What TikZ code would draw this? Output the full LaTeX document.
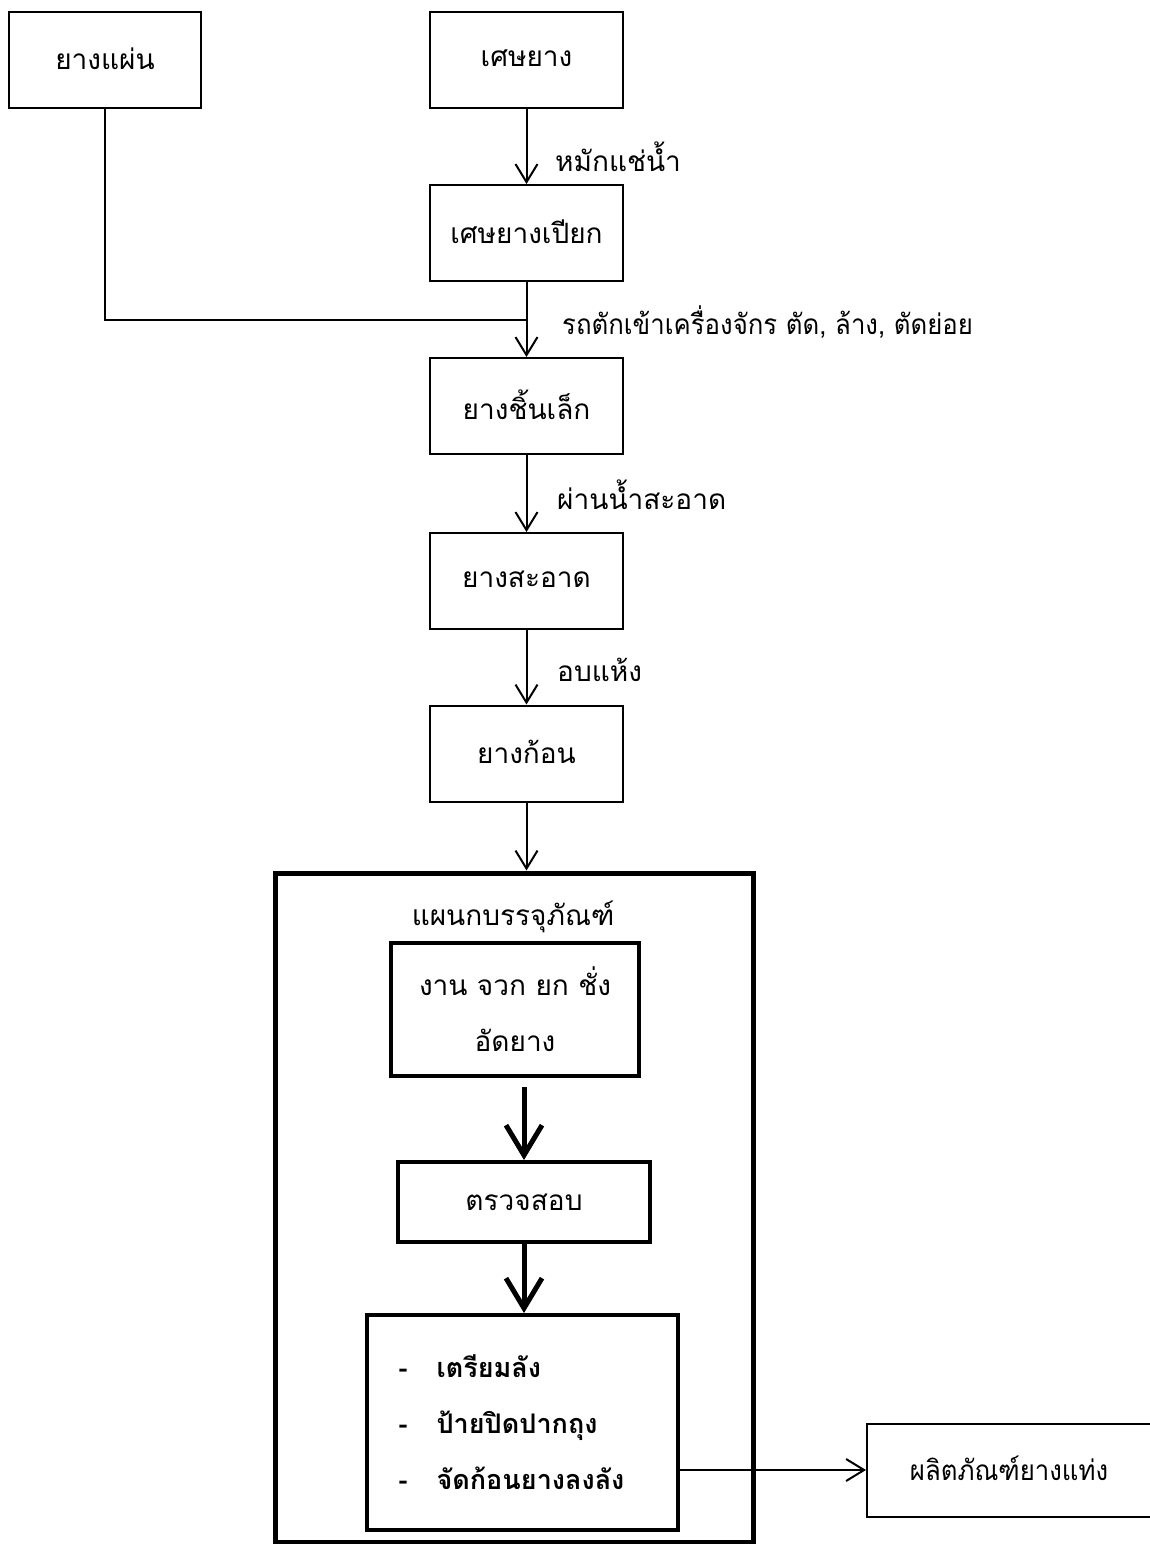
\documentclass[tikz,border=0pt]{standalone}
\usepackage{fontspec}
\newfontfamily\thaifont[Script=Thai]{Loma}
\newfontfamily\thaicond[Script=Thai,FakeStretch=0.92]{Loma}
\usetikzlibrary{arrows.meta}
\begin{document}
\begin{tikzpicture}[x=1pt,y=-1pt,
  every node/.style={font=\thaifont\fontsize{28}{34}\selectfont, inner sep=0pt},
  box/.style={draw, line width=2pt, minimum width=193pt, minimum height=96pt},
  tbox/.style={draw, line width=4pt},
  flow/.style={line width=2pt, -{Straight Barb[length=18pt,width=22pt]}},
  tflow/.style={line width=5pt, -{Straight Barb[length=30pt,width=36pt]}},
  plain/.style={line width=2pt},
  lbl/.style={anchor=west}
]
\useasboundingbox (0,0) rectangle (1149,1544);
% upper column
\node[box, minimum width=192pt] (plate) at (105,60) {\raisebox{3pt}{ยางแผ่น}};
\node[box] (scrap) at (526.5,60) {\raisebox{3pt}{เศษยาง}};
\node[box] (wet) at (526.5,233) {\raisebox{3pt}{เศษยางเปียก}};
\node[box] (small) at (526.5,406) {\raisebox{3pt}{ยางชิ้นเล็ก}};
\node[box] (clean) at (526.5,581) {\raisebox{3pt}{ยางสะอาด}};
\node[box] (lump) at (526.5,753.5) {\raisebox{3pt}{ยางก้อน}};
% packaging department
\node[draw, line width=5pt, minimum width=478pt, minimum height=669pt] (dept) at (514,1207.5) {};
\node (title) at (513,917) {แผนกบรรจุภัณฑ์};
\node[tbox, minimum width=248pt, minimum height=133pt, align=center, font=\thaifont\fontsize{28}{56}\selectfont] (work) at (515,1009.5) {งาน จวก ยก ชั่ง\\อัดยาง};
\node[tbox, minimum width=252pt, minimum height=80pt] (check) at (524,1202) {ตรวจสอบ};
\node[tbox, minimum width=311pt, minimum height=215pt, align=left, font=\thaifont\bfseries\fontsize{27}{56}\selectfont] (final) at (522.5,1422.5)
  {\hspace{16pt}\makebox[0pt][l]{\hspace{-38pt}-}เตรียมลัง\hspace{60pt}\\
   \hspace{16pt}\makebox[0pt][l]{\hspace{-38pt}-}ป้ายปิดปากถุง\\
   \hspace{16pt}\makebox[0pt][l]{\hspace{-38pt}-}จัดก้อนยางลงลัง};
\node[draw, line width=2pt, minimum width=290pt, minimum height=93pt, anchor=west] (product) at (866,1470) {\hspace{-6pt}\raisebox{3pt}{\thaicond ผลิตภัณฑ์ยางแท่ง}};
% connectors
\coordinate (join) at (526.5,320);
\draw[flow] (scrap) -- (wet);
\draw[plain] (plate.south) |- (join);
\draw[flow] (wet) -- (small);
\draw[flow] (small) -- (clean);
\draw[flow] (clean) -- (lump);
\draw[flow] (lump.south) -- (lump.south |- dept.north);
\draw[tflow] ([yshift=-9pt]check.north |- work.south) -- (check.north);
\draw[tflow] (check.south) -- (check.south |- final.north);
\draw[flow] (final.east |- product.west) -- (product.west);
% labels
\node[lbl] (l1) at (555,157) {หมักแช่น้ำ};
\node[lbl, font=\thaicond\fontsize{28}{34}\selectfont] (l2) at (562,322) {รถตักเข้าเครื่องจักร ตัด, ล้าง, ตัดย่อย};
\node[lbl] (l3) at (557,495) {ผ่านน้ำสะอาด};
\node[lbl] (l4) at (557,670) {อบแห้ง};
\end{tikzpicture}
\end{document}
